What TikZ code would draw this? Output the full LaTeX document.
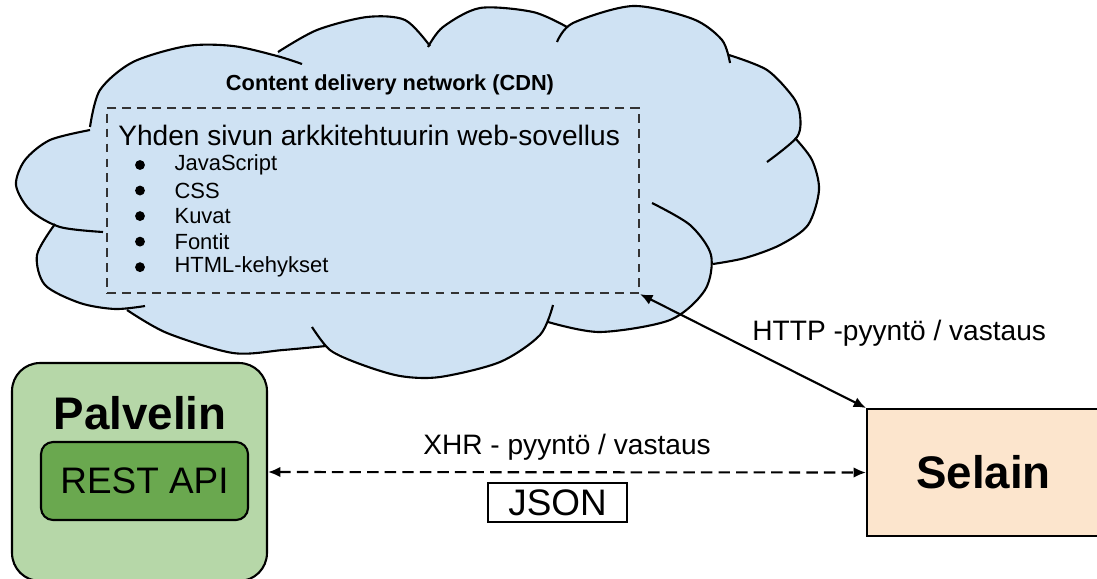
\documentclass[tikz,border=0pt]{standalone}
\usepackage{fontspec}
\setmainfont{Liberation Sans}
\usetikzlibrary{positioning}
\usetikzlibrary{arrows.meta}

\definecolor{cdnblue}{HTML}{CFE2F3}
\definecolor{palvelingreen}{HTML}{B6D7A8}
\definecolor{restgreen}{HTML}{6AA84F}
\definecolor{selainorange}{HTML}{FCE5CD}
\definecolor{dashgray}{HTML}{333333}

\tikzset{
  cloudline/.style={draw=black,line width=1.2pt},
  spabox/.style={draw=dashgray,line width=1.3pt,dash pattern=on 5pt off 3.5pt,minimum width=10.64cm,minimum height=3.7cm,inner sep=0pt},
  listdot/.style={circle,fill=black,minimum size=5.6pt,inner sep=0pt},
  listitem/.style={font=\fontsize{12.5}{15}\selectfont,inner sep=0pt,anchor=west},
  bigtitle/.style={font=\fontsize{26}{30}\selectfont\bfseries},
  boxline/.style={draw=black,line width=1.2pt},
}

\begin{document}
\begin{tikzpicture}[x=0.02cm,y=-0.02cm]
\useasboundingbox (0,0) rectangle (1097,578);

% CDN-pilvi
\fill[cdnblue] plot[smooth] coordinates {(90,127) (100,90) (133,62) (187,46) (233,46) (277,56)}
  -- plot[smooth] coordinates {(278,52) (317,30) (367,17) (405,20) (430,46)}
  -- plot[smooth] coordinates {(428,47) (443,27) (480,8) (533,12) (567,27)}
  -- plot[smooth] coordinates {(557,42) (573,23) (633,6) (693,19) (722,40) (730,63)}
  -- plot[smooth] coordinates {(729,55) (767,70) (793,97) (800,115) (797,137) (767,162)}
  -- plot[smooth] coordinates {(795,138) (812,160) (819,190) (808,225) (780,245) (745,258) (713,264)}
  -- plot[smooth] coordinates {(711,255) (705,290) (670,320) (600,332) (548,322)}
  -- plot[smooth] coordinates {(540,335) (500,362) (440,377) (400,376) (360,364) (326,346)}
  -- plot[smooth] coordinates {(326,346) (283,350) (233,353) (167,333) (127,310)}
  -- plot[smooth] coordinates {(115,309) (80,303) (45,285) (37,255) (55,224)}
  -- plot[smooth] coordinates {(60,227) (30,210) (16,185) (25,160) (50,140) (90,130)} -- cycle;
\draw[cloudline] plot[smooth] coordinates {(90,127) (100,90) (133,62) (187,46) (233,46) (277,56) (302,64)};
\draw[cloudline] plot[smooth] coordinates {(278,52) (317,30) (367,17) (405,20) (430,46)};
\draw[cloudline] plot[smooth] coordinates {(428,47) (443,27) (480,8) (533,12) (567,27)};
\draw[cloudline] plot[smooth] coordinates {(557,42) (573,23) (633,6) (693,19) (722,40) (730,63)};
\draw[cloudline] plot[smooth] coordinates {(729,55) (767,70) (793,97) (800,115) (797,137) (767,162)};
\draw[cloudline] plot[smooth] coordinates {(795,138) (812,160) (819,190) (808,225) (780,245) (745,258) (713,264)};
\draw[cloudline] plot[smooth] coordinates {(652,203) (690,225) (711,255) (705,290) (670,320) (600,332) (548,322)};
\draw[cloudline] plot[smooth] coordinates {(553,305) (540,335) (500,362) (440,377) (400,376) (360,364) (330,350) (312,327)};
\draw[cloudline] plot[smooth] coordinates {(326,346) (283,350) (233,353) (167,333) (127,310)};
\draw[cloudline] plot[smooth] coordinates {(145,306) (115,309) (80,303) (45,285) (37,255) (55,224)};
\draw[cloudline] plot[smooth] coordinates {(103,232) (60,227) (30,210) (16,185) (25,160) (50,140) (90,130)};

\node[font=\fontsize{12.4}{15}\selectfont\bfseries] (cdn) at (390,85) {Content delivery network (CDN)};
\node[spabox] (spa) at (373,200.5) {};
\node[font=\fontsize{16}{19}\selectfont,anchor=west,inner sep=0pt] (spatitle) at (118,135) {Yhden sivun arkkitehtuurin web-sovellus};
\node[listdot] (d1) at (140,165) {};
\node[listitem,right=0.58cm of d1] (js) {JavaScript};
\node[listdot,below=0.3cm of d1] (d2) {};
\node[listitem,right=0.58cm of d2] (css) {CSS};
\node[listdot,below=0.3cm of d2] (d3) {};
\node[listitem,right=0.58cm of d3] (kuvat) {Kuvat};
\node[listdot,below=0.3cm of d3] (d4) {};
\node[listitem,right=0.58cm of d4] (fontit) {Fontit};
\node[listdot,below=0.3cm of d4] (d5) {};
\node[listitem,right=0.58cm of d5] (html) {HTML-kehykset};

% palvelin ja selain
\node[boxline,fill=palvelingreen,rounded corners=0.56cm,minimum width=5.1cm,minimum height=4.36cm] (palvelin) at (139.5,472) {};
\node[bigtitle] (palvelintitle) at (140,413) {Palvelin};
\node[boxline,fill=restgreen,rounded corners=0.24cm,minimum width=4.14cm,minimum height=1.56cm,font=\fontsize{21}{25}\selectfont] (rest) at (144.5,481) {REST API};
\node[boxline,fill=selainorange,minimum width=4.66cm,minimum height=2.54cm,bigtitle] (selain) at (983.5,472.5) {Selain};
\node[draw=black,line width=1pt,minimum width=2.78cm,minimum height=0.78cm,font=\fontsize{21}{25}\selectfont,inner sep=0pt] (json) at (557.5,502.5) {JSON};

\draw[line width=1.2pt,dash pattern=on 6.5pt off 3.5pt,{Latex[length=7pt,width=6pt]}-{Latex[length=7pt,width=6pt]}] (palvelin.east) -- node[above=0.22cm,font=\fontsize{16}{19}\selectfont,inner sep=0pt] (xhr) {XHR - pyyntö / vastaus} (selain.west);
\draw[line width=1.2pt,{Latex[length=7pt,width=6pt]}-{Latex[length=7pt,width=6pt]}] (spa.south east) -- (selain.north west);
\node[font=\fontsize{16}{19}\selectfont,anchor=west,inner sep=0pt] (http) at (752,333) {HTTP -pyyntö / vastaus};

\end{tikzpicture}
\end{document}
